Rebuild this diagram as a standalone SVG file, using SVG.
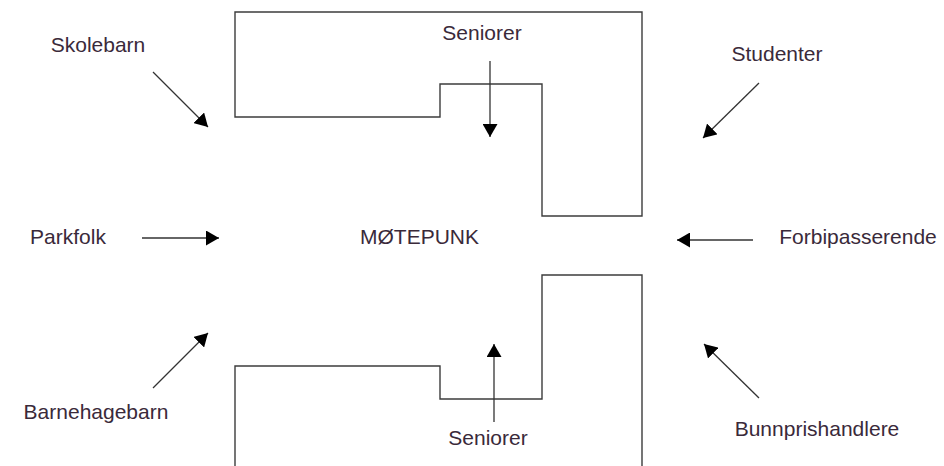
<svg xmlns="http://www.w3.org/2000/svg" width="944" height="466" viewBox="0 0 944 466">
<style>
.t{font-family:"Liberation Sans",Arial,sans-serif;font-size:21px;fill:#3a2a3a;text-anchor:middle}
.wall{fill:none;stroke:#3c3c3c;stroke-width:1.4}
.arr{fill:none;stroke:#333;stroke-width:1.3;marker-end:url(#ah)}
</style>
<defs>
<marker id="ah" markerUnits="userSpaceOnUse" markerWidth="14" markerHeight="15" refX="13" refY="7.5" orient="auto" viewBox="0 0 14 15">
<path d="M0,0 L13,7.5 L0,15 z" fill="#000"/>
</marker>
</defs>
<rect width="944" height="466" fill="#fff"/>
<g id="building-top">
<path class="wall" d="M235,12 H642 V216 H542 V84 H440 V117 H235 Z"/>
</g>
<g id="building-bottom">
<path class="wall" d="M235,466 V366 H440 V399 H542 V275 H642 V466"/>
</g>
<g id="motepunkt"><text class="t" x="419.5" y="244">MØTEPUNK</text></g>
<g id="seniorer-top"><text class="t" x="482" y="40">Seniorer</text></g>
<g id="seniorer-bottom"><text class="t" x="488" y="445">Seniorer</text></g>
<g id="skolebarn"><text class="t" x="98" y="52">Skolebarn</text></g>
<g id="studenter"><text class="t" x="777" y="61">Studenter</text></g>
<g id="parkfolk"><text class="t" x="68" y="244">Parkfolk</text></g>
<g id="forbipasserende"><text class="t" x="858" y="244">Forbipasserende</text></g>
<g id="barnehagebarn"><text class="t" x="96" y="419">Barnehagebarn</text></g>
<g id="bunnprishandlere"><text class="t" x="817" y="436">Bunnprishandlere</text></g>
<g id="connectors">
<line class="arr" x1="490" y1="61" x2="490" y2="137"/>
<line class="arr" x1="494" y1="422" x2="494" y2="344"/>
<line class="arr" x1="153" y1="72" x2="208" y2="127"/>
<line class="arr" x1="759" y1="83" x2="703" y2="138"/>
<line class="arr" x1="142" y1="238" x2="219" y2="238"/>
<line class="arr" x1="753" y1="240" x2="677" y2="240"/>
<line class="arr" x1="153" y1="388" x2="208" y2="333"/>
<line class="arr" x1="759" y1="398" x2="704" y2="344"/>
</g>
</svg>
